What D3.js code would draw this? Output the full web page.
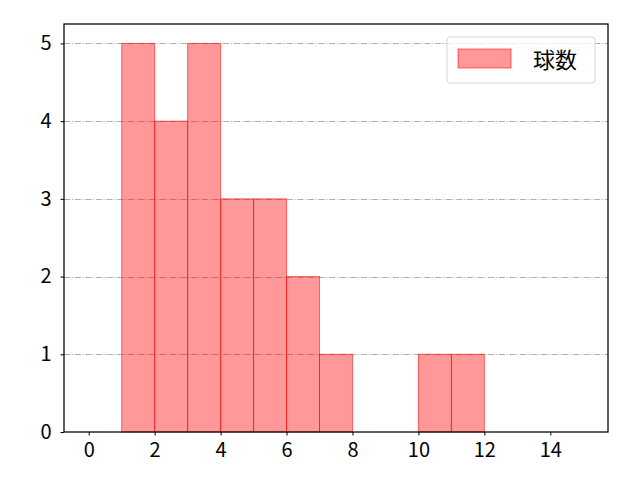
<!DOCTYPE html>
<html>
<head>
<meta charset="utf-8">
<script src="https://cdn.jsdelivr.net/npm/d3@7.9.0/dist/d3.min.js"></script>
<style>
  body { margin: 0; background: #fff; }
  text { font-family: "Noto Sans CJK JP", "DejaVu Sans", sans-serif; }
</style>
</head>
<body>
<div id="vis"></div>
<script>
// histogram bins (left edge) and counts
const binStarts = [1, 2, 3, 4, 5, 6, 7, 8, 9, 10, 11];
const counts    = [5, 4, 5, 3, 3, 2, 1, 0, 0, 1, 1];
const xTicks = [0, 2, 4, 6, 8, 10, 12, 14];
const yTicks = [0, 1, 2, 3, 4, 5];
const seriesName = '球数';

const W = 640, H = 480;
const m = { left: 64, right: 32, top: 24, bottom: 48 };

const svg = d3.select('#vis').append('svg')
    .attr('width', W).attr('height', H);

const x = d3.scaleLinear().domain([-0.75, 15.75]).range([m.left, W - m.right]);
const y = d3.scaleLinear().domain([0, 5.25]).range([H - m.bottom, m.top]);

// horizontal grid
svg.append('g')
  .selectAll('line')
  .data(yTicks.filter(d => d > 0))
  .join('line')
    .attr('x1', m.left).attr('x2', W - m.right)
    .attr('y1', d => Math.round(y(d)) + 0.5).attr('y2', d => Math.round(y(d)) + 0.5)
    .attr('stroke', '#b0b0b0')
    .attr('stroke-width', 1)
    .attr('stroke-dasharray', '6.4,1.6,1,1.6');

// bars
svg.append('g')
  .selectAll('rect')
  .data(binStarts.map((b, i) => ({ b, c: counts[i] })).filter(d => d.c > 0))
  .join('rect')
    .attr('x', d => x(d.b))
    .attr('width', d => x(d.b + 1) - x(d.b))
    .attr('y', d => y(d.c))
    .attr('height', d => y(0) - y(d.c))
    .attr('fill', '#ff0000').attr('fill-opacity', 0.4)
    .attr('stroke', '#ff0000').attr('stroke-opacity', 0.55)
    .attr('stroke-width', 1);

// axes
const xAxis = svg.append('g')
    .attr('transform', `translate(0,${H - m.bottom})`)
    .call(d3.axisBottom(x).tickValues(xTicks).tickFormat(d3.format('d')).tickSize(3.5).tickPadding(7));
const yAxis = svg.append('g')
    .attr('transform', `translate(${m.left},0)`)
    .call(d3.axisLeft(y).tickValues(yTicks).tickFormat(d3.format('d')).tickSize(3.5).tickPadding(9));

[xAxis, yAxis].forEach(g => {
  g.attr('font-size', 20).attr('font-family', '"Noto Sans CJK JP", sans-serif');
  g.select('.domain').remove();
  g.selectAll('.tick line').attr('stroke', '#000').attr('stroke-width', 1);
  g.selectAll('.tick text').attr('fill', '#000');
});

// frame
svg.append('rect')
    .attr('x', m.left).attr('y', m.top)
    .attr('width', W - m.left - m.right)
    .attr('height', H - m.top - m.bottom)
    .attr('fill', 'none')
    .attr('stroke', '#000')
    .attr('stroke-width', 1.25);

// legend
const lg = svg.append('g').attr('transform', 'translate(447,37)');
lg.append('rect')
    .attr('width', 148).attr('height', 46).attr('rx', 3)
    .attr('fill', '#fff').attr('fill-opacity', 0.8)
    .attr('stroke', '#d6d6d6');
lg.append('rect')
    .attr('x', 11).attr('y', 12).attr('width', 53).attr('height', 19)
    .attr('fill', '#ff0000').attr('fill-opacity', 0.4)
    .attr('stroke', '#ff0000').attr('stroke-opacity', 0.55);
lg.append('text')
    .attr('x', 86).attr('y', 31)
    .attr('font-size', 22)
    .attr('fill', '#000')
    .text(seriesName);
</script>
</body>
</html>
